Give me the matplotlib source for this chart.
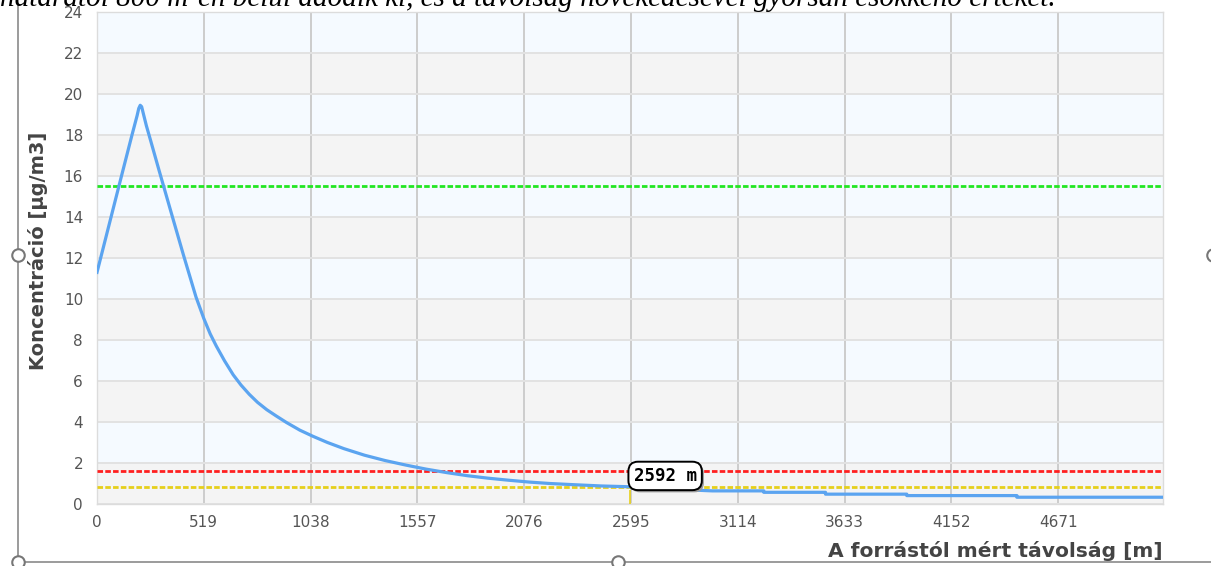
import matplotlib
matplotlib.use('Agg')
import matplotlib.pyplot as plt
from matplotlib.lines import Line2D

# concentration profile
distance_m = [0, 60, 120, 170, 195, 203, 210, 217, 225, 240,
              260, 300, 322, 371, 420, 481, 519, 550, 580, 620,
              662, 700, 740, 780, 825, 870, 920, 986, 1050, 1120,
              1200, 1300, 1400, 1500, 1600, 1700, 1800, 1900, 2000, 2100,
              2200, 2300, 2450, 2592, 2700, 2850, 2990,
              3240, 3240, 3540, 3540, 3935, 3935, 4470, 4470, 5190]
concentration = [11.3, 13.67, 16.04, 18.0, 18.95, 19.3, 19.45, 19.38, 19.05, 18.45,
                 17.75, 16.33, 15.56, 13.85, 12.15, 10.1, 9.05, 8.3, 7.7, 6.98,
                 6.3, 5.8, 5.35, 4.96, 4.6, 4.3, 3.98, 3.6, 3.3, 3.0,
                 2.7, 2.38, 2.12, 1.9, 1.7, 1.53, 1.38, 1.26, 1.16, 1.07,
                 1.0, 0.95, 0.88, 0.84, 0.78, 0.7, 0.64,
                 0.64, 0.57, 0.57, 0.48, 0.48, 0.41, 0.41, 0.33, 0.33]

x_ticks = [0, 519, 1038, 1557, 2076, 2595, 3114, 3633, 4152, 4671]
y_ticks = list(range(0, 25, 2))

limits = [15.5, 1.6, 0.85]
limit_colors = ['#22e622', '#ff1f1f', '#e6cf1a']

cursor_m = 2592
cursor_label = '2592 m'

W, H = 1211, 566
fig = plt.figure(figsize=(W / 100, H / 100), dpi=100)
ax = fig.add_axes([97 / W, 62 / H, 1066 / W, 492 / H])
ax.set_xlim(0, 5180)
ax.set_ylim(0, 24)

# alternating background bands
for i, lo in enumerate(y_ticks[:-1]):
    ax.axhspan(lo, lo + 2, color='#f4f4f4' if i % 2 == 0 else '#f5faff', lw=0, zorder=0)

ax.set_xticks(x_ticks)
ax.set_yticks(y_ticks)
ax.xaxis.grid(True, color='#cccccc', lw=1.4, zorder=1)
ax.yaxis.grid(True, color='#e2e2e2', lw=1.4, zorder=1)
ax.set_axisbelow(True)
for s in ax.spines.values():
    s.set_color('#dcdcdc')
    s.set_linewidth(1)
ax.tick_params(length=0, labelsize=11, labelcolor='#555555')
ax.tick_params(axis='y', pad=10)
ax.tick_params(axis='x', pad=8)

for val, col in zip(limits, limit_colors):
    ax.axhline(val, color=col, lw=2.0, ls=(0, (2.0, 0.8)), zorder=3)

ax.plot(distance_m, concentration, color='#5ba4f0', lw=2.3, zorder=4,
        solid_joinstyle='round')

# hover cursor + tooltip
ax.vlines(cursor_m, 0, 0.68, color='#e6cf1a', lw=1.2, zorder=5)
tip = dict(textcoords='offset points', ha='center', va='center',
           fontsize=12.5, fontweight='bold', family='DejaVu Sans Mono')
ax.annotate(cursor_label, xy=(cursor_m, 1.37), xytext=(26.5, -1.6), color='none',
            bbox=dict(boxstyle='round,pad=0.3,rounding_size=0.55', fc='#9a9a9a',
                      ec='none'), zorder=6, **tip)
ax.annotate(cursor_label, xy=(cursor_m, 1.37), xytext=(25, 0), color='black',
            bbox=dict(boxstyle='round,pad=0.3,rounding_size=0.55', fc='white',
                      ec='black', lw=1.4), zorder=7, **tip)

ax.set_ylabel('Koncentráció [µg/m3]', fontsize=14, fontweight='bold', color='#444444')
ax.yaxis.set_label_coords(-0.046, 0.514)
ax.set_xlabel('A forrástól mért távolság [m]', fontsize=14.6, fontweight='bold',
              color='#444444', loc='right')
ax.xaxis.set_label_coords(1.0, -0.076)

# document selection frame around the embedded chart
fig.add_artist(Line2D([18 / W, 18 / W], [4 / H, 1], color='#8a8a8a', lw=1.2,
                      transform=fig.transFigure))
fig.add_artist(Line2D([18 / W, 1], [4 / H, 4 / H], color='#8a8a8a', lw=1.2,
                      transform=fig.transFigure))
for hx, hy in [(18, 255), (18, 562), (618, 562), (1213, 255)]:
    fig.add_artist(Line2D([hx / W], [1 - hy / H], marker='o', markersize=9,
                          mfc='white', mec='#777777', mew=1.5,
                          transform=fig.transFigure))

# clipped caption line of the surrounding document
fig.text(0.0, 1 - 6 / H,
         'határától 800 m-en belül adódik ki, és a távolság növekedésével gyorsan csökkenő értéket.',
         family='Liberation Serif', style='italic', fontsize=21, va='baseline',
         ha='left', color='black')

fig.savefig('out.png', dpi=100)
